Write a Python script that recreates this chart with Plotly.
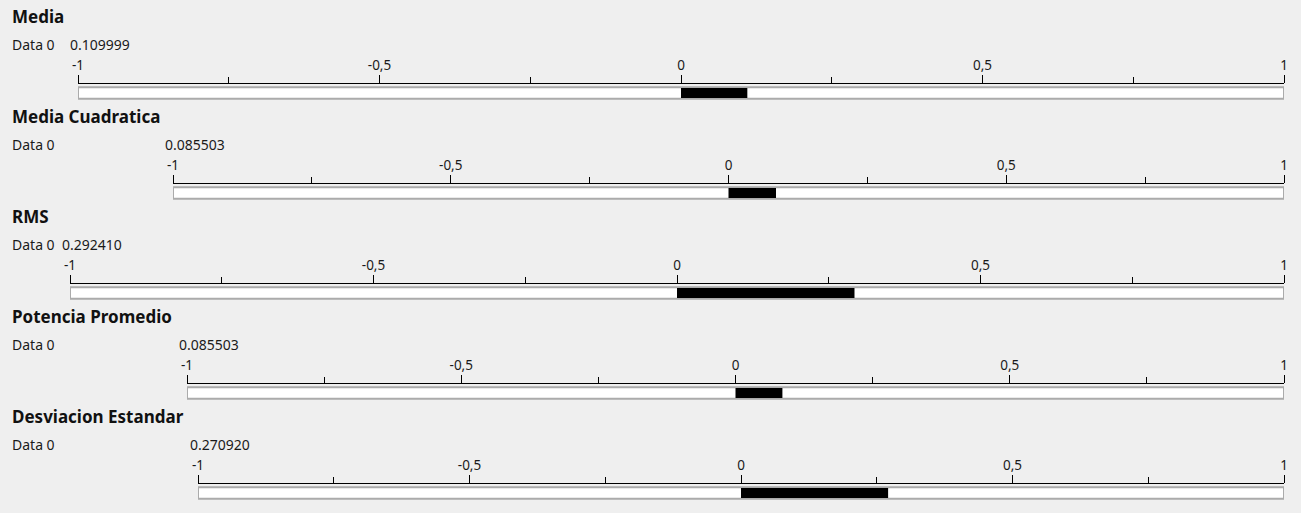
import plotly.graph_objects as go

# ---- data ----
titles = ["Media", "Media Cuadratica", "RMS", "Potencia Promedio", "Desviacion Estandar"]
series_name = "Data 0"
values = [0.109999, 0.085503, 0.292410, 0.085503, 0.270920]
scale_min = -1
scale_max = 1
tick_vals = [-1, -0.5, 0, 0.5, 1]
tick_text = ["-1", "-0,5", "0", "0,5", "1"]
minor_vals = [-0.75, -0.25, 0.25, 0.75]

# ---- layout constants (pixels) ----
W, H = 1301, 513
BG = "#efefef"
FONT = "Noto Sans"
axis_start = [78, 173, 70, 187, 198]
axis_end = 1284
panel_step = 100


def py(y):
    return 1 - y / H


fig = go.Figure()
annotations = []

for i, (title, val) in enumerate(zip(titles, values)):
    n = i + 1
    off = panel_step * i
    xa = "x" if n == 1 else f"x{n}"
    ya = "y" if n == 1 else f"y{n}"
    # background scale bar (-1 .. 1)
    fig.add_trace(go.Bar(
        y=[0], x=[scale_max - scale_min], base=[scale_min], orientation="h",
        width=0.72, marker=dict(color="white", line=dict(color="#ababab", width=2)),
        xaxis=xa, yaxis=ya, hoverinfo="skip", showlegend=False))
    # value bar
    fig.add_trace(go.Bar(
        y=[0], x=[val], base=[0], orientation="h", name=series_name,
        width=0.64, marker=dict(color="black", line=dict(width=0)),
        xaxis=xa, yaxis=ya, showlegend=False))

    x0 = axis_start[i] / W
    x1 = axis_end / W
    xkey = "xaxis" if n == 1 else f"xaxis{n}"
    ykey = "yaxis" if n == 1 else f"yaxis{n}"
    fig.layout[xkey] = dict(
        domain=[x0, x1], range=[scale_min, scale_max], anchor="free",
        position=py(83 + off), side="top", showline=True, linecolor="black",
        linewidth=1, ticks="outside", ticklen=8, tickwidth=1, tickcolor="black",
        tickmode="array", tickvals=tick_vals, ticktext=tick_text,
        tickfont=dict(family=FONT, size=13.5, color="#1a1a1a"),
        minor=dict(tickmode="array", tickvals=minor_vals, ticks="outside",
                   ticklen=6, tickwidth=1, tickcolor="black", showgrid=False),
        showgrid=False, zeroline=False, fixedrange=True, automargin=False)
    fig.layout[ykey] = dict(
        domain=[py(101 + off), py(85 + off)], range=[-0.5, 0.5],
        anchor=xa, visible=False, fixedrange=True, automargin=False)

    annotations.append(dict(
        x=12 / W, y=py(16 + off), xref="paper", yref="paper", xanchor="left",
        yanchor="middle", text=f"<b>{title}</b>", showarrow=False,
        borderpad=0, borderwidth=0,
        font=dict(family=FONT, size=17, color="#111111")))
    annotations.append(dict(
        x=12 / W, y=py(44 + off), xref="paper", yref="paper", xanchor="left",
        yanchor="middle", text=series_name, showarrow=False,
        borderpad=0, borderwidth=0,
        font=dict(family=FONT, size=14, color="#1a1a1a")))
    annotations.append(dict(
        x=(axis_start[i] - 8) / W, y=py(44 + off), xref="paper", yref="paper",
        xanchor="left", yanchor="middle", text=f"{val:.6f}", showarrow=False,
        borderpad=0, borderwidth=0,
        font=dict(family=FONT, size=14, color="#1a1a1a")))

fig.update_layout(
    width=W, height=H, autosize=False,
    margin=dict(l=0, r=0, t=0, b=0, pad=0, autoexpand=False),
    paper_bgcolor=BG, plot_bgcolor=BG, barmode="overlay",
    annotations=annotations, showlegend=False)

fig.write_html(
    "out.html", config={"displayModeBar": False, "responsive": False},
    post_script=("document.documentElement.style.margin='0';"
                 "document.body.style.margin='0';"
                 "document.body.style.overflow='hidden';"))
